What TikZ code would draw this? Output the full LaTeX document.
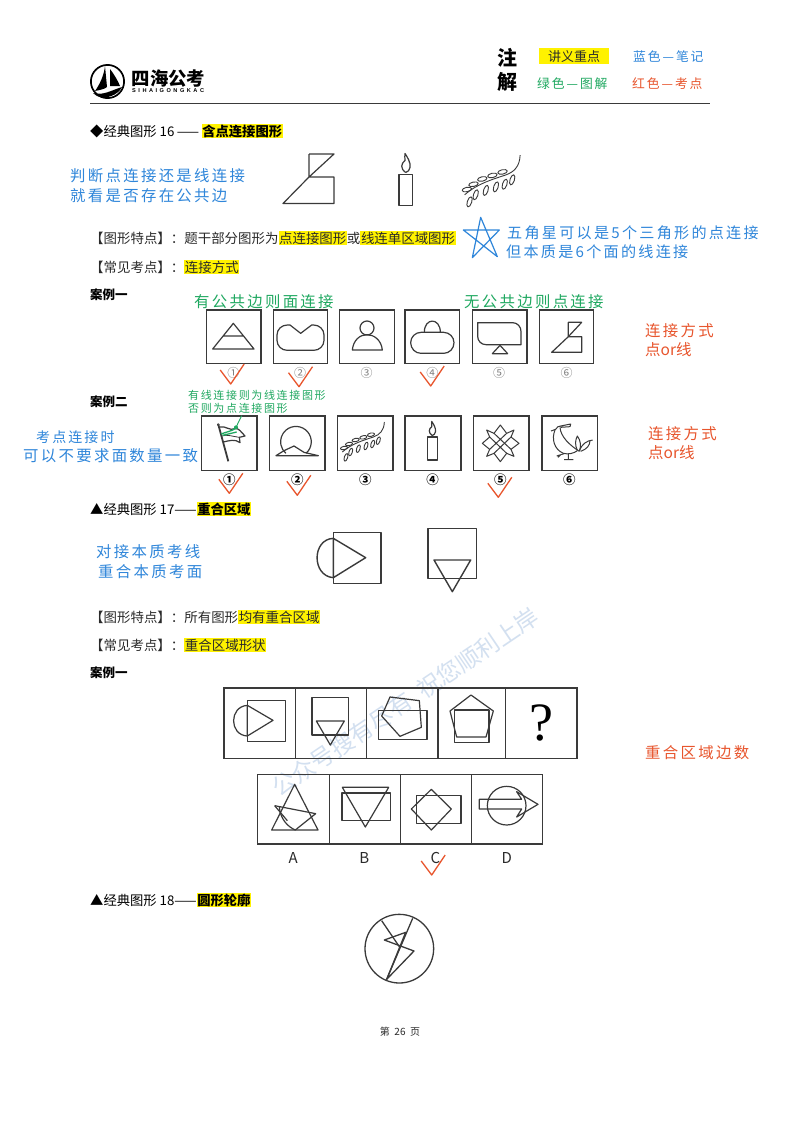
\documentclass[tikz,border=0pt]{standalone}
\usepackage{fontspec}
\setmainfont{Noto Sans CJK SC}
\newfontfamily\hand[LetterSpace=15]{Noto Sans CJK SC}
\newfontfamily\logofont[LetterSpace=45]{Liberation Sans}
\newfontfamily\qfont{Liberation Serif}
\definecolor{noteblue}{HTML}{2F86DA}
\definecolor{notegreen}{HTML}{1FA860}
\definecolor{notered}{HTML}{E8552D}
\definecolor{ink}{HTML}{2A2A2A}
\definecolor{frame}{HTML}{3A3A3A}
\definecolor{wm}{HTML}{D3E0F0}
\newcommand{\hlt}[1]{{\setlength\fboxsep{0.6pt}\colorbox{yellow}{#1}}}
\newcommand{\sz}[1]{\fontsize{#1}{#1}\selectfont}
\tikzset{
  body/.style={anchor=west,inner sep=0pt,text=ink,font=\sz{13.45}},
  head/.style={anchor=west,inner sep=0pt,text=black,font=\sz{13.3}},
  case/.style={anchor=west,inner sep=0pt,text=black,font=\sz{12.5}\bfseries},
  nblue/.style={anchor=west,inner sep=0pt,text=noteblue,font=\hand\sz{15.4}},
  ngreen/.style={anchor=west,inner sep=0pt,text=notegreen,font=\hand\sz{15.4}},
  nred/.style={anchor=west,inner sep=0pt,text=notered,font=\hand\sz{15.4}},
  nredor/.style={anchor=west,inner sep=0pt,text=notered,font=\sz{15.5}},
  ngsmall/.style={anchor=west,inner sep=0pt,text=notegreen,font=\hand\sz{11}},
  keyt/.style={anchor=west,inner sep=0pt,font=\hand\sz{12.8}},
  lab/.style={inner sep=0pt,font=\sz{12}},
  fig/.style={draw=frame,line width=1.2pt,line join=round},
  boxf/.style={draw=frame,line width=1.6pt},
  grid/.style={draw=frame,line width=1.3pt},
  chkline/.style={draw=notered,line width=1.3pt,line join=round},
}
\newcommand{\chk}[2]{\draw[chkline] ({#1-10.5},{#2-14}) -- (#1,#2) -- ({#1+13.5},{#2-20});}
\newcommand{\sshape}{\draw[fig] (0,0) -- (25,0) -- (0,23) -- (0,0) (0,23) -- (25,23) -- (25,49.5) -- (-26,49.5) -- cycle;}
\newcommand{\candlefig}{\draw[fig] (0,0) rectangle (13.5,31);
  \draw[fig] (6.7,-2) .. controls (1,-6) and (2,-11) .. (6,-14) .. controls (6,-17) and (5.5,-19) .. (6,-21) .. controls (8,-18) and (12,-12) .. (11,-7) .. controls (10.5,-4) and (9,-3) .. (6.7,-2);}
\newcommand{\branchfig}{%
  \draw[fig,line width=0.9pt] (148,30) .. controls (147,55) and (135,68) .. (115,75) .. controls (85,85) and (50,95) .. (22,120);
  \foreach \a/\b in {108/68,85/76,62/84,42/96,27/108}{
    \draw[fig,line width=0.9pt,shift={(\a,\b)},rotate=-12] (0,0) ellipse (11 and 5);}
  \foreach \a/\b in {130/86,113/96,93/102,70/110,47/120,33/136}{
    \draw[fig,line width=0.9pt,shift={(\a,\b)},rotate=-72] (0,0) ellipse (12 and 5);}}
\begin{document}
\begin{tikzpicture}[x=1pt,y=1pt,yscale=-1]
\useasboundingbox (0,0) rectangle (800,1130);
\fill[white] (0,0) rectangle (800,1130);

% watermark
\node[rotate=34,text=wm,inner sep=0pt,font=\sz{23.5}] (wmark) at (405,702) {公众号搜有尽有\ \ 祝您顺利上岸};

% logo
\draw[black,line width=1.7pt] (107.5,81.5) circle (16.6);
\fill[black] (105,66) .. controls (104,75) and (100,84) .. (95,91) .. controls (100,90) and (105,89) .. (107,87) -- cycle;
\fill[black] (110,69) .. controls (114,74) and (118,81) .. (120,86) -- (110,86) -- cycle;
\fill[black] (93,93) .. controls (103,96) and (112,90) .. (122,87) .. controls (118,95) and (106,100) .. (97,96) -- cycle;
\node[inner sep=0pt,font=\sz{18.4}\bfseries,anchor=west,text=black] (logot) at (131.5,79) {四海公考};
\node[inner sep=0pt,font=\logofont\sz{5.6}\bfseries,anchor=west,text=black] (logos) at (132,91) {SIHAIGONGKAC};

% header key
\node[inner sep=0pt,font=\sz{20}\bfseries,text=black] (zhu) at (507.5,58) {注};
\node[inner sep=0pt,font=\sz{20}\bfseries,text=black] (jie) at (507.5,82) {解};
\fill[yellow] (539,48) rectangle (608.5,64);
\node[inner sep=0pt,font=\sz{13},text=ink] (k0) at (574,56.5) {讲义重点};
\node[keyt,text=noteblue] (k1) at (633,57) {蓝色—笔记};
\node[keyt,text=notegreen] (k2) at (537,83.5) {绿色—图解};
\node[keyt,text=notered] (k3) at (632,83.5) {红色—考点};
\draw[frame,line width=0.9pt] (90,103.5) -- (710,103.5);

% section 16
\node[head] (h16) at (90,131) {◆经典图形 16\hspace{2.5pt}——\hspace{2.5pt}\hlt{\bfseries 含点连接图形}};
\node[nblue] (n1) at (70,175.5) {判断点连接还是线连接};
\node[nblue] (n2) at (70,196) {就看是否存在公共边};
\begin{scope}[shift={(309,154)}]\sshape\end{scope}
\begin{scope}[shift={(399,174.5)}]\candlefig\end{scope}
\begin{scope}[shift={(455,142)},scale=0.44]\branchfig\end{scope}
\node[body] (t1) at (90,238) {【图形特点】：题干部分图形为\hlt{点连接图形}或\hlt{线连单区域图形}};
\node[body] (t2) at (90,267) {【常见考点】：\hlt{连接方式}};
\begin{scope}[shift={(455,205)},scale=1/3]
  \draw[noteblue,line width=1.2pt,line join=round] (77,37) -- (127,155) -- (25,75) -- (133,75) -- (52,158) -- cycle;
\end{scope}
\node[nblue,font=\hand\sz{15.1}] (n3) at (507,233) {五角星可以是5个三角形的点连接};
\node[nblue,font=\hand\sz{15.1}] (n4) at (506,252) {但本质是6个面的线连接};

% case 1
\node[case] (c1) at (90,295) {案例一};
\node[ngreen] (g1) at (194,301.5) {有公共边则面连接};
\node[ngreen] (g2) at (464,301.5) {无公共边则点连接};
\node[nred] (r1) at (645,331) {连接方式};
\node[nredor] (r2) at (645,350) {点or线};

\foreach \xa/\xb in {206.3/261,273.3/327.3,339.3/394.3,405/459.3,472.3/526.7,539.3/593.3}{
  \draw[boxf] (\xa,310) rectangle (\xb,363.3);}
\foreach \x/\t/\nm in {233.3/①/a,300/②/b,366.7/③/c,432.3/④/d,499/⑤/e,566.7/⑥/f}{
  \node[lab,text=gray] (lab\nm) at (\x,372.7) {\t};}

\begin{scope}[shift={(180,290)},scale=1/3]
  % box 1
  \draw[fig] (98,177) -- (160,100) -- (222,177) -- cycle (129,138) -- (191,138);
  % box 2
  \draw[fig] (330,105) -- (322,105) .. controls (305,105) and (291,118) .. (291,135) -- (291,151) .. controls (291,168) and (305,181) .. (322,181) -- (401,181) .. controls (418,181) and (432,168) .. (432,151) -- (432,135) .. controls (432,118) and (418,105) .. (401,105) -- (395,105) -- (362,130) -- cycle;
  % box 3
  \draw[fig] (561,114) circle (21);
  \draw[fig] (517,180) .. controls (520,150) and (540,134) .. (561,134) .. controls (582,134) and (604,150) .. (607,180) -- cycle;
  % box 4
  \draw[fig] (723,127) -- (791,127) .. controls (808,127) and (822,141) .. (822,158) .. controls (822,176) and (808,190) .. (791,190) -- (723,190) .. controls (706,190) and (692,176) .. (692,158) .. controls (692,141) and (706,127) .. (723,127) -- cycle;
  \draw[fig] (733,127) .. controls (733,82) and (781,82) .. (781,127);
  % box 5
  \draw[fig] (893,98) -- (998,98) .. controls (1012,98) and (1023,110) .. (1023,124) -- (1023,164) -- (918,164) .. controls (904,164) and (893,153) .. (893,139) -- cycle;
  \draw[fig] (937,191) -- (960,166) -- (983,191) -- cycle;
  % box 6
  \draw[fig] (1165,97) -- (1205,97) -- (1165,140) -- cycle (1165,140) -- (1205,140) -- (1205,187) -- (1115,187) -- cycle;
\end{scope}
\chk{230.7}{384}\chk{299}{386.7}\chk{430.7}{386}

% case 2
\node[case] (c2) at (90,402) {案例二};
\node[ngsmall] (g3) at (188,395) {有线连接则为线连接图形};
\node[ngsmall] (g4) at (188,408.5) {否则为点连接图形};
\node[nblue,font=\hand\sz{14}] (n5) at (36,437) {考点连接时};
\node[nblue] (n6) at (23,455.5) {可以不要求面数量一致};
\node[nred] (r3) at (648,434) {连接方式};
\node[nredor] (r4) at (648,453) {点or线};

\foreach \xa/\xb in {201.3/257,269.3/325,337.3/392.7,405/460.7,473.3/529,542/597.3}{
  \draw[boxf] (\xa,415.7) rectangle (\xb,470.3);}
\foreach \x/\t/\nm in {229.3/①/a,297.3/②/b,365.3/③/c,432.7/④/d,500.3/⑤/e,569.3/⑥/f}{
  \node[lab,text=black,font=\sz{12.5}\bfseries] (labb\nm) at (\x,480) {\t};}

% flag
\begin{scope}[shift={(200,412)},scale=1/3]
  \draw[fig,line width=1.8pt] (55,38) -- (85,148);
  \fill[white] (55,38) circle (3); \draw[fig,line width=0.8pt] (55,38) circle (3);
  \draw[fig] (60,45) .. controls (75,40) and (90,58) .. (105,50) .. controls (115,46) and (125,62) .. (135,72) -- (118,76) -- (120,92) .. controls (105,80) and (88,86) .. (70,90);
  \draw[fig,line width=0.8pt] (66,72) .. controls (80,66) and (100,74) .. (118,76);
  \draw[notegreen,line width=1.3pt] (63,66) .. controls (78,60) and (95,58) .. (108,48) (68,70) -- (110,60);
  \fill[notegreen] (108,46) circle (6);
  \draw[notegreen,line width=0.9pt] (108,46) -- (125,11);
\end{scope}
% moon
\begin{scope}[shift={(180,290)},scale=1/3]
  \draw[fig] (378,490) arc[start angle=49,end angle=-229,radius=46];
  \draw[fig] (288,497) -- (415,497) -- (372,487) -- (342,468) -- (312,482) -- cycle;
\end{scope}
\begin{scope}[shift={(335,412)},scale=1/3]\branchfig\end{scope}
\begin{scope}[shift={(427.3,437)},scale=0.74]\candlefig\end{scope}
% star
\begin{scope}[shift={(180,290)},scale=1/3]
  \draw[fig,line width=1pt] (961,405) -- (980,430) -- (1002,420) -- (993,441) -- (1017,460) -- (993,478) -- (1002,499) -- (980,490) -- (961,515) -- (942,490) -- (920,499) -- (929,478) -- (907,460) -- (929,441) -- (920,420) -- (942,430) -- cycle;
  \draw[fig,line width=1pt] (942,430) -- (993,478) (980,430) -- (929,478) (993,441) -- (942,490) (929,441) -- (980,490);
\end{scope}
% bird
\begin{scope}[shift={(540,412)},scale=1/3]
  \draw[fig,line width=1pt] (33,57) -- (47,52) .. controls (50,45) and (56,42) .. (62,42) -- (92,36) -- (90,44) -- (62,46);
  \draw[fig,line width=1pt] (45,54) .. controls (34,80) and (42,112) .. (70,124) .. controls (85,128) and (102,124) .. (112,116);
  \draw[fig,line width=1pt] (60,46) .. controls (62,75) and (90,100) .. (118,118);
  \draw[fig,line width=1pt] (112,115) .. controls (104,98) and (106,84) .. (112,72) .. controls (122,85) and (124,102) .. (118,118);
  \draw[fig,line width=1pt] (118,116) .. controls (126,96) and (140,86) .. (158,84) (122,118) .. controls (140,112) and (150,100) .. (150,86);
  \draw[fig,line width=1pt] (85,125) -- (85,143) (72,143) -- (100,143) (50,132) -- (72,125) (62,128) -- (54,136);
\end{scope}
\chk{229.3}{493.3}\chk{297.3}{495.3}\chk{498.3}{497.3}

% section 17
\node[head] (h17) at (90,509) {▲经典图形 17——\hlt{\bfseries 重合区域}};
\node[nblue] (n7) at (96,552) {对接本质考线};
\node[nblue] (n8) at (98,571.5) {重合本质考面};
\begin{scope}[shift={(200,510)},scale=1/3]
  \draw[fig,line width=1.4pt] (400,67) rectangle (543,221);
  \draw[fig,line width=1.4pt] (400,85) .. controls (335,88) and (335,198) .. (400,203);
  \draw[fig,line width=1.4pt] (400,85) -- (497,143) -- (400,203) -- cycle;
  \draw[fig,line width=1.4pt] (684,56) rectangle (830,206);
  \draw[fig,line width=1.4pt] (702,150) -- (812,150) -- (757,245) -- cycle;
\end{scope}
\node[body] (t3) at (90,617) {【图形特点】：所有图形\hlt{均有重合区域}};
\node[body] (t4) at (90,645) {【常见考点】：\hlt{重合区域形状}};
\node[case] (c3) at (90,673) {案例一};
\node[nred] (r5) at (645,752.5) {重合区域边数};

\begin{scope}[shift={(200,510)},scale=1/3]
  \draw[grid] (72,534) rectangle (1131,745);
  \foreach \x in {286,499,714,916}{\draw[grid] (\x,534) -- (\x,745);}
  \draw[fig] (142,571) rectangle (256,694);
  \draw[fig] (142,586) .. controls (87,590) and (87,675) .. (142,678);
  \draw[fig] (142,586) -- (219,631) -- (142,678) -- cycle;
  \draw[fig] (336,563) rectangle (446,675);
  \draw[fig] (349,633) -- (433,633) -- (391,705) -- cycle;
  \draw[fig] (536,602) rectangle (681,689);
  \draw[fig] (570,561) -- (658,572) -- (664,652) -- (600,679) -- (545,618) -- cycle;
  \draw[fig] (764,600) rectangle (867,697);
  \draw[fig] (813,555) -- (880,603) -- (858,681) -- (770,681) -- (750,603) -- cycle;
  \draw[grid] (173,793) rectangle (1028,1002);
  \foreach \x in {388,601,814}{\draw[grid] (\x,793) -- (\x,1002);}
  \draw[fig] (284,823) -- (354,960) -- (215,960) -- cycle;
  \draw[fig] (224,887) -- (347,911) -- (286,960) .. controls (262,950) and (240,925) .. (238,890);
  \draw[fig] (224,887) -- (262,932);
  \draw[fig] (427,832) -- (566,832) -- (496,951) -- cycle;
  \draw[fig] (426,849) rectangle (571,932);
  \draw[fig] (649,856) rectangle (783,940);
  \draw[fig] (694,838) -- (754,897) -- (694,960) -- (634,897) -- cycle;
  \draw[fig] (920,887) circle (58);
  \draw[fig] (838,868) -- (965,868) -- (950,845) -- (1014,883) -- (950,921) -- (965,897) -- (838,897) -- cycle;
\end{scope}
\node[inner sep=0pt,font=\qfont\sz{54},text=black] (qm) at (541.5,723) {?};
\foreach \x/\t in {293.3/A,364.3/B,435.3/C,506.7/D}{
  \node[inner sep=0pt,font=\sz{15},text=ink] (opt\t) at (\x,858) {\t};}
\chk{431.7}{875}

% section 18
\node[head] (h18) at (90,900) {▲经典图形 18——\hlt{\bfseries 圆形轮廓}};
\begin{scope}[shift={(340,890)},scale=1/3]
  \draw[fig,line width=1.3pt] (178,176) circle (103);
  \draw[fig,line width=1.3pt] (125,92) -- (178,170);
  \draw[fig,line width=1.3pt] (218,85) -- (140,268);
  \draw[fig,line width=1.3pt] (197,127) -- (133,150) -- (222,183) -- (140,268) -- cycle;
\end{scope}

\node[inner sep=0pt,font=\sz{10},text=ink] (pg) at (400,1032) {第\ \ 26\ \ 页};
\end{tikzpicture}
\end{document}
